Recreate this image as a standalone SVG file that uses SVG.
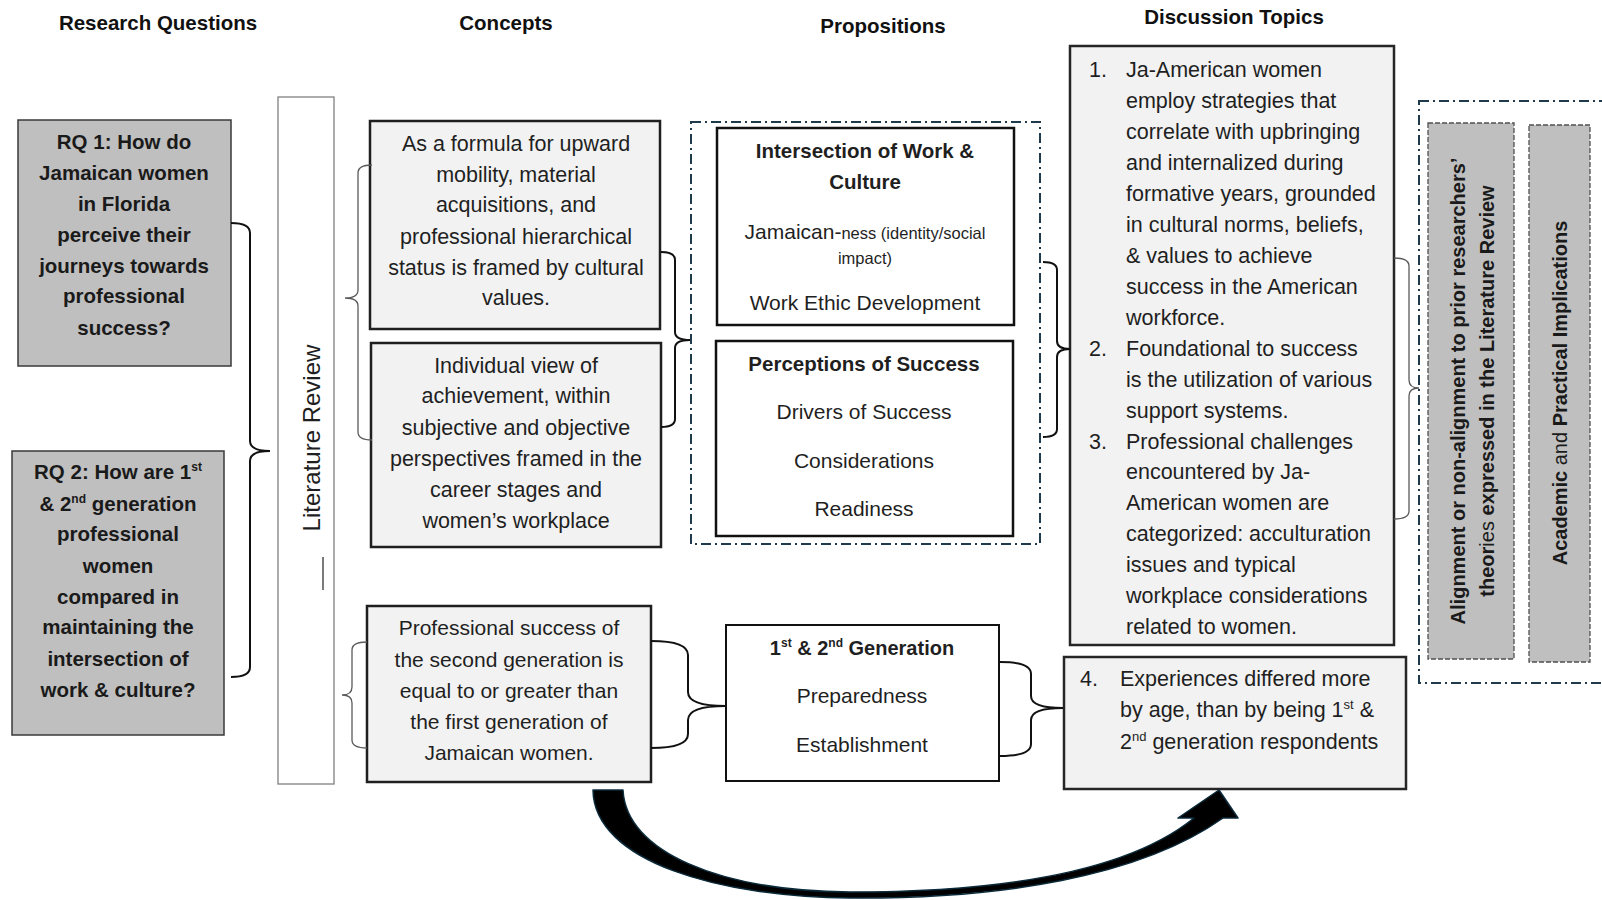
<svg xmlns="http://www.w3.org/2000/svg" width="1602" height="900" viewBox="0 0 1602 900">
  <style>
    text { font-family: "Liberation Sans", Arial, sans-serif; fill: #1f1f1f; }
    .hdr { font-size: 20.5px; font-weight: bold; text-anchor: middle; fill: #111; }
    .rq { font-size: 20.5px; font-weight: bold; text-anchor: middle; fill: #1a1a1a; }
    .ctr { text-anchor: middle; }
    .body { font-size: 21.5px; fill: #262626; }
    .body21 { font-size: 21px; fill: #262626; }
    .bold { font-weight: bold; }
    .rqbox { fill: #bfbfbf; stroke: #3a3a3a; stroke-width: 1.5; }
    .litbox { fill: #fff; stroke: #808080; stroke-width: 1.3; }
    .grey { fill: #f2f2f2; stroke: #1f1f1f; stroke-width: 2.5; }
    .white { fill: #fff; stroke: #111; stroke-width: 2.5; }
    .dashdot { fill: none; stroke: #1f3a4a; stroke-width: 2; stroke-dasharray: 10 4 2 4; }
    .gdash { fill: #bfbfbf; stroke: #505050; stroke-width: 1.3; stroke-dasharray: 5 2; }
    .brace { fill: none; stroke: #111; stroke-width: 2; }
    .brace-thin { fill: none; stroke: #5a5a5a; stroke-width: 1.3; }
    .vtext { font-size: 20px; font-weight: bold; text-anchor: middle; fill: #1a1a1a; }
  </style>

  <!-- column headings -->
  <g id="headings">
    <text class="hdr" x="158" y="30">Research Questions</text>
    <text class="hdr" x="506" y="30">Concepts</text>
    <text class="hdr" x="883" y="33">Propositions</text>
    <text class="hdr" x="1234" y="24">Discussion Topics</text>
  </g>

  <!-- research questions -->
  <g id="rq1">
    <rect class="rqbox" x="18" y="120" width="213" height="246"/>
    <text class="rq" x="124" y="149">RQ 1: How do</text>
    <text class="rq" x="124" y="180">Jamaican women</text>
    <text class="rq" x="124" y="211">in Florida</text>
    <text class="rq" x="124" y="242">perceive their</text>
    <text class="rq" x="124" y="273">journeys towards</text>
    <text class="rq" x="124" y="303">professional</text>
    <text class="rq" x="124" y="335">success?</text>
  </g>

  <g id="rq2">
    <rect class="rqbox" x="12" y="451" width="212" height="284"/>
    <text class="rq" x="118" y="479">RQ 2: How are 1<tspan dy="-8" font-size="12">st</tspan></text>
    <text class="rq" x="118" y="511">&amp; 2<tspan dy="-8" font-size="12">nd</tspan><tspan dy="8"> generation</tspan></text>
    <text class="rq" x="118" y="541">professional</text>
    <text class="rq" x="118" y="573">women</text>
    <text class="rq" x="118" y="604">compared in</text>
    <text class="rq" x="118" y="634">maintaining the</text>
    <text class="rq" x="118" y="666">intersection of</text>
    <text class="rq" x="118" y="697">work &amp; culture?</text>
  </g>

  <!-- literature review column -->
  <g id="literature-review">
    <rect class="litbox" x="278" y="97" width="56" height="687"/>
    <text transform="translate(320 438) rotate(-90)" text-anchor="middle" font-size="24" fill="#1f1f1f">Literature Review</text>
    <line x1="323" y1="557" x2="323" y2="590" stroke="#333" stroke-width="1.3"/>
  </g>

  <!-- concepts -->
  <g id="concept-formula">
    <rect class="grey" x="370" y="121" width="290" height="208"/>
    <g class="body ctr">
      <text x="516" y="151">As a formula for upward</text>
      <text x="516" y="182">mobility, material</text>
      <text x="516" y="212">acquisitions, and</text>
      <text x="516" y="244">professional hierarchical</text>
      <text x="516" y="275">status is framed by cultural</text>
      <text x="516" y="305">values.</text>
    </g>
  </g>

  <g id="concept-individual">
    <rect class="grey" x="371" y="343" width="290" height="204"/>
    <g class="body ctr">
      <text x="516" y="373">Individual view of</text>
      <text x="516" y="403">achievement, within</text>
      <text x="516" y="435">subjective and objective</text>
      <text x="516" y="466">perspectives framed in the</text>
      <text x="516" y="497">career stages and</text>
      <text x="516" y="528">women’s workplace</text>
    </g>
  </g>

  <g id="concept-generation">
    <rect class="grey" x="367" y="606" width="284" height="176"/>
    <g class="body21 ctr">
      <text x="509" y="635">Professional success of</text>
      <text x="509" y="667">the second generation is</text>
      <text x="509" y="698">equal to or greater than</text>
      <text x="509" y="729">the first generation of</text>
      <text x="509" y="760">Jamaican women.</text>
    </g>
  </g>

  <!-- propositions -->
  <g id="propositions-frame">
    <rect class="dashdot" x="691" y="122" width="349" height="422"/>
  </g>

  <g id="prop-intersection">
    <rect class="white" x="717" y="128" width="297" height="197"/>
    <text class="ctr bold" x="865" y="158" font-size="20.5">Intersection of Work &amp;</text>
    <text class="ctr bold" x="865" y="189" font-size="20.5">Culture</text>
    <text class="ctr" x="865" y="239" font-size="21" fill="#262626">Jamaican-<tspan font-size="16.5">ness (identity/social</tspan></text>
    <text class="ctr" x="865" y="264" font-size="16.5" fill="#262626">impact)</text>
    <text class="ctr" x="865" y="310" font-size="21" fill="#262626">Work Ethic Development</text>
  </g>

  <g id="prop-perceptions">
    <rect class="white" x="716" y="341" width="297" height="195"/>
    <text class="ctr bold" x="864" y="371" font-size="20.5">Perceptions of Success</text>
    <text class="ctr" x="864" y="419" font-size="21" fill="#262626">Drivers of Success</text>
    <text class="ctr" x="864" y="468" font-size="21" fill="#262626">Considerations</text>
    <text class="ctr" x="864" y="516" font-size="21" fill="#262626">Readiness</text>
  </g>

  <g id="prop-generation">
    <rect class="white" x="726" y="625" width="273" height="156" style="stroke-width:2"/>
    <text class="ctr bold" x="862" y="655" font-size="20">1<tspan dy="-8" font-size="12">st</tspan><tspan dy="8"> &amp; 2</tspan><tspan dy="-8" font-size="12">nd</tspan><tspan dy="8"> Generation</tspan></text>
    <text class="ctr" x="862" y="703" font-size="21" fill="#262626">Preparedness</text>
    <text class="ctr" x="862" y="752" font-size="21" fill="#262626">Establishment</text>
  </g>

  <!-- discussion topics -->
  <g id="discussion-main">
    <rect class="grey" x="1070" y="46" width="324" height="599" style="stroke:#262626"/>
    <g class="body">
      <text x="1089" y="77">1.</text>
      <text x="1126" y="77">Ja-American women</text>
      <text x="1126" y="108">employ strategies that</text>
      <text x="1126" y="139">correlate with upbringing</text>
      <text x="1126" y="170">and internalized during</text>
      <text x="1126" y="201">formative years, grounded</text>
      <text x="1126" y="232">in cultural norms, beliefs,</text>
      <text x="1126" y="263">&amp; values to achieve</text>
      <text x="1126" y="294">success in the American</text>
      <text x="1126" y="325">workforce.</text>
      <text x="1089" y="356">2.</text>
      <text x="1126" y="356">Foundational to success</text>
      <text x="1126" y="387">is the utilization of various</text>
      <text x="1126" y="418">support systems.</text>
      <text x="1089" y="449">3.</text>
      <text x="1126" y="449">Professional challenges</text>
      <text x="1126" y="479">encountered by Ja-</text>
      <text x="1126" y="510">American women are</text>
      <text x="1126" y="541">categorized: acculturation</text>
      <text x="1126" y="572">issues and typical</text>
      <text x="1126" y="603">workplace considerations</text>
      <text x="1126" y="634">related to women.</text>
    </g>
  </g>

  <g id="discussion-age">
    <rect class="grey" x="1064" y="657" width="342" height="132" style="stroke:#262626"/>
    <g class="body">
      <text x="1080" y="686">4.</text>
      <text x="1120" y="686">Experiences differed more</text>
      <text x="1120" y="717">by age, than by being 1<tspan dy="-8" font-size="13">st</tspan><tspan dy="8"> &amp;</tspan></text>
      <text x="1120" y="749">2<tspan dy="-8" font-size="13">nd</tspan><tspan dy="8"> generation respondents</tspan></text>
    </g>
  </g>

  <!-- implications column -->
  <g id="implications-frame">
    <rect class="dashdot" x="1419" y="101" width="200" height="582"/>
  </g>

  <g id="alignment">
    <rect class="gdash" x="1428" y="123" width="86" height="536"/>
    <text class="vtext" transform="translate(1465 391) rotate(-90)">Alignment or non-alignment to prior researchers’</text>
    <text class="vtext" transform="translate(1494 391) rotate(-90)">theor<tspan font-weight="normal">ies</tspan> expressed in the Literature Review</text>
  </g>

  <g id="implications">
    <rect class="gdash" x="1529" y="125" width="61" height="537"/>
    <text class="vtext" transform="translate(1567 393) rotate(-90)" font-size="20.5">Academic <tspan font-weight="normal">and</tspan> Practical Implications</text>
  </g>

  <!-- braces and the curved arrow -->
  <g id="connectors">
    <path class="brace" d="M231 223 Q250 223 250 233 L250 441 Q250 451 270 451 Q250 451 250 461 L250 667 Q250 677 231 677"/>
    <path class="brace-thin" d="M372 165 Q358 165 358 173 L358 290 Q358 298 345 298 Q358 298 358 306 L358 432 Q358 440 372 440"/>
    <path class="brace" d="M661 252 Q675 252 675 260 L675 332 Q675 340 690 340 Q675 340 675 348 L675 419 Q675 427 661 427"/>
    <path class="brace" d="M1043 262 Q1057 262 1057 270 L1057 341 Q1057 349 1070 349 Q1057 349 1057 357 L1057 429 Q1057 437 1043 437"/>
    <path class="brace-thin" d="M367 642 Q352 642 352 650 L352 687 Q352 695 342 695 Q352 695 352 703 L352 740 Q352 748 367 748"/>
    <path class="brace" d="M651 641 Q688 641 688 655 L688 692 Q688 706 726 706 Q688 706 688 720 L688 734 Q688 748 651 748"/>
    <path class="brace" d="M1000 662 Q1031 662 1031 674 L1031 696 Q1031 708 1063 708 Q1031 708 1031 720 L1031 744 Q1031 756 1000 756"/>
    <path class="brace-thin" d="M1394 258 Q1409 258 1409 266 L1409 380 Q1409 388 1419 388 Q1409 388 1409 396 L1409 511 Q1409 519 1394 519"/>
    <path d="M593 790 C594 862 720 897 850 898 C1000 899 1140 877 1223 818 L1238 818 L1219 790 L1178 818 L1194 818 C1120 878 980 892 850 892 C720 891 626 852 623 790 Z" fill="#000" stroke="#0b2a3a" stroke-width="1.5" stroke-linejoin="round"/>
  </g>
</svg>
